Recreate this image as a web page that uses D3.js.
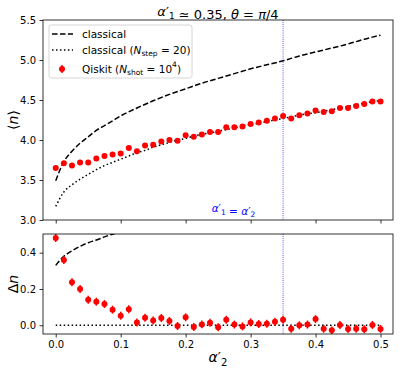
<!DOCTYPE html>
<html>
<head>
<meta charset="utf-8">
<script src="https://cdn.jsdelivr.net/npm/d3@7"></script>
<style>
body { margin: 0; background: #fff; }
text { font-family: "DejaVu Sans", sans-serif; }
</style>
</head>
<body>
<script>
// alpha'_2 grid of the Qiskit runs
var alpha = [0, 0.0125, 0.025, 0.0375, 0.05, 0.0625, 0.075, 0.0875, 0.1, 0.1125,
    0.125, 0.1375, 0.15, 0.1625, 0.175, 0.1875, 0.2, 0.2125, 0.225, 0.2375,
    0.25, 0.2625, 0.275, 0.2875, 0.3, 0.3125, 0.325, 0.3375, 0.35, 0.3625,
    0.375, 0.3875, 0.4, 0.4125, 0.425, 0.4375, 0.45, 0.4625, 0.475, 0.4875, 0.5];
var qiskitN = [3.65, 3.71, 3.68, 3.72, 3.72, 3.77, 3.80, 3.82, 3.83, 3.90,
    3.86, 3.93, 3.94, 3.98, 4.00, 3.99, 4.06, 4.04, 4.07, 4.10,
    4.10, 4.16, 4.16, 4.17, 4.20, 4.22, 4.24, 4.27, 4.30, 4.27,
    4.31, 4.33, 4.37, 4.35, 4.36, 4.40, 4.40, 4.425, 4.45, 4.48, 4.48];
var qiskitDn = [0.481, 0.36, 0.237, 0.20, 0.141, 0.130, 0.117, 0.086, 0.053, 0.088,
    0.016, 0.041, 0.027, 0.040, 0.024, -0.004, 0.044, -0.010, 0.005, 0.014,
    -0.011, 0.031, 0.004, -0.006, 0.016, 0.007, 0.009, 0.020, 0.031, -0.019,
    0.0, 0.004, 0.034, -0.019, -0.028, 0.002, -0.020, -0.019, -0.022, 0.002, -0.020];
var shotErr = 0.022;

// classical (N_step = 20), same grid
var stepN = [3.17, 3.35, 3.44, 3.51, 3.57, 3.63, 3.68, 3.72, 3.76, 3.80,
    3.84, 3.87, 3.91, 3.94, 3.97, 4.00, 4.02, 4.05, 4.07, 4.09,
    4.11, 4.13, 4.15, 4.18, 4.19, 4.21, 4.23, 4.25, 4.27, 4.29,
    4.31, 4.33, 4.34, 4.36, 4.38, 4.40, 4.42, 4.44, 4.46, 4.48, 4.49];

// classical (continuous)
var classAlpha = [0, 0.0125, 0.025, 0.0375, 0.05, 0.0625, 0.075, 0.0875, 0.1, 0.125,
    0.15, 0.175, 0.2, 0.225, 0.25, 0.275, 0.3, 0.325, 0.35, 0.375,
    0.4, 0.425, 0.45, 0.475, 0.5];
var classN = [3.49, 3.73, 3.86, 3.96, 4.04, 4.12, 4.18, 4.24, 4.30, 4.40,
    4.49, 4.57, 4.64, 4.71, 4.77, 4.83, 4.89, 4.94, 4.99, 5.05,
    5.10, 5.15, 5.20, 5.26, 5.31];

// classical minus N_step=20 curve shown in lower panel
var diffAlpha = [0, 0.0125, 0.025, 0.0375, 0.05, 0.0625, 0.075, 0.0875, 0.1, 0.125];
var diffDn = [0.33, 0.38, 0.41, 0.435, 0.455, 0.47, 0.487, 0.502, 0.515, 0.54];

var alphaEq = 0.35;
var xTicks = [0, 0.1, 0.2, 0.3, 0.4, 0.5];
var topTicks = [3.0, 3.5, 4.0, 4.5, 5.0, 5.5];
var botTicks = [0.0, 0.2, 0.4];

var width = 399, height = 373;
var svg = d3.select("body").append("svg")
        .attr("width", width)
        .attr("height", height);

var x = d3.scaleLinear().domain([-0.0196, 0.5192]).range([43, 393]);
var yTop = d3.scaleLinear().domain([3.0, 5.5]).range([220, 20]);
var yBot = d3.scaleLinear().domain([-0.048, 0.503]).range([334, 234]);

var defs = svg.append("defs");
function clip(id, y0, y1) {
    defs.append("clipPath").attr("id", id).append("rect")
            .attr("x", 43).attr("y", y0).attr("width", 350).attr("height", y1 - y0);
}
clip("clipTop", 20, 220);
clip("clipBot", 234, 334);

var dash = "5.55,2.4", dot = "1.5,2.475";

function drawAxes(yScale, ticks, showXLabels) {
    var g = svg.append("g");
    var xa = d3.axisBottom(x).tickValues(xTicks).tickSize(3.5).tickPadding(3.5)
            .tickFormat(showXLabels ? d3.format(".1f") : "");
    g.append("g").attr("transform", "translate(0," + yScale.range()[0] + ")").call(xa);
    var ya = d3.axisLeft(yScale).tickValues(ticks).tickSize(3.5).tickPadding(3.5)
            .tickFormat(d3.format(".1f"));
    g.append("g").attr("transform", "translate(43,0)").call(ya);
    g.selectAll(".domain").remove();
    g.selectAll(".tick line").attr("stroke", "#000").attr("stroke-width", 0.8);
    g.selectAll(".tick text").attr("font-size", 10).attr("fill", "#000")
            .attr("font-family", "DejaVu Sans, sans-serif");
    svg.append("rect")
            .attr("x", 43).attr("y", yScale.range()[1])
            .attr("width", 350).attr("height", yScale.range()[0] - yScale.range()[1])
            .attr("fill", "none").attr("stroke", "#000").attr("stroke-width", 0.8);
}

// prime + subscript helper for alpha'_k
function alphaPrime(t, k, sub) {
    t.append("tspan").attr("font-style", "italic").text("α");
    t.append("tspan").text("′");
    t.append("tspan").attr("font-size", sub).attr("dy", sub * 0.35).text(k);
    t.append("tspan").attr("dy", -sub * 0.35).text("");
}

// ---- top panel
var topG = svg.append("g").attr("clip-path", "url(#clipTop)");
topG.append("line")
        .attr("x1", x(alphaEq)).attr("x2", x(alphaEq))
        .attr("y1", 20).attr("y2", 220)
        .attr("stroke", "#0000ff").attr("stroke-width", 0.8).attr("stroke-dasharray", "0.8,1.3");

var lineTop = d3.line().x(function (d) { return x(d[0]); }).y(function (d) { return yTop(d[1]); })
        .curve(d3.curveMonotoneX);
topG.append("path")
        .attr("d", lineTop(d3.zip(classAlpha, classN)))
        .attr("fill", "none").attr("stroke", "#000").attr("stroke-width", 1.5)
        .attr("stroke-dasharray", dash);
topG.append("path")
        .attr("d", lineTop(d3.zip(alpha, stepN)))
        .attr("fill", "none").attr("stroke", "#000").attr("stroke-width", 1.5)
        .attr("stroke-dasharray", dot);

var ptsTop = topG.selectAll(".pt").data(d3.zip(alpha, qiskitN)).enter().append("g");
ptsTop.append("line")
        .attr("x1", function (d) { return x(d[0]); }).attr("x2", function (d) { return x(d[0]); })
        .attr("y1", function (d) { return yTop(d[1] - shotErr); })
        .attr("y2", function (d) { return yTop(d[1] + shotErr); })
        .attr("stroke", "red").attr("stroke-width", 1.5);
ptsTop.append("circle")
        .attr("cx", function (d) { return x(d[0]); })
        .attr("cy", function (d) { return yTop(d[1]); })
        .attr("r", 3).attr("fill", "red");

var eqText = svg.append("text")
        .attr("x", x(0.240)).attr("y", yTop(3.1))
        .attr("font-size", 10.5).attr("fill", "#0000ff");
alphaPrime(eqText, "1", 7.5);
eqText.append("tspan").text(" = ");
alphaPrime(eqText, "2", 7.5);

drawAxes(yTop, topTicks, false);

// ---- bottom panel
var botG = svg.append("g").attr("clip-path", "url(#clipBot)");
botG.append("line")
        .attr("x1", x(alphaEq)).attr("x2", x(alphaEq))
        .attr("y1", 234).attr("y2", 334)
        .attr("stroke", "#0000ff").attr("stroke-width", 0.8).attr("stroke-dasharray", "0.8,1.3");

var lineBot = d3.line().x(function (d) { return x(d[0]); }).y(function (d) { return yBot(d[1]); })
        .curve(d3.curveMonotoneX);
botG.append("path")
        .attr("d", lineBot([[alpha[0], 0], [alpha[alpha.length - 1], 0]]))
        .attr("fill", "none").attr("stroke", "#000").attr("stroke-width", 1.5)
        .attr("stroke-dasharray", dot);
botG.append("path")
        .attr("d", lineBot(d3.zip(diffAlpha, diffDn)))
        .attr("fill", "none").attr("stroke", "#000").attr("stroke-width", 1.5)
        .attr("stroke-dasharray", dash);

var ptsBot = botG.selectAll(".pt").data(d3.zip(alpha, qiskitDn)).enter().append("g");
ptsBot.append("line")
        .attr("x1", function (d) { return x(d[0]); }).attr("x2", function (d) { return x(d[0]); })
        .attr("y1", function (d) { return yBot(d[1] - shotErr); })
        .attr("y2", function (d) { return yBot(d[1] + shotErr); })
        .attr("stroke", "red").attr("stroke-width", 1.5);
ptsBot.append("circle")
        .attr("cx", function (d) { return x(d[0]); })
        .attr("cy", function (d) { return yBot(d[1]); })
        .attr("r", 3).attr("fill", "red");

drawAxes(yBot, botTicks, true);

// ---- labels
var title = svg.append("text").attr("x", 218).attr("y", 16)
        .attr("text-anchor", "middle").attr("font-size", 13);
alphaPrime(title, "1", 9);
title.append("tspan").text(" ≃ 0.35, ");
title.append("tspan").attr("font-style", "italic").text("θ");
title.append("tspan").text(" = ");
title.append("tspan").attr("font-style", "italic").text("π");
title.append("tspan").text("/4");

svg.append("text")
        .attr("transform", "translate(18,120) rotate(-90)")
        .attr("text-anchor", "middle").attr("font-size", 14)
        .html('⟨<tspan font-style="italic">n</tspan>⟩');

svg.append("text")
        .attr("transform", "translate(18,284) rotate(-90)")
        .attr("text-anchor", "middle").attr("font-size", 14)
        .html('Δ<tspan font-style="italic">n</tspan>');

var xl = svg.append("text").attr("x", 218).attr("y", 362)
        .attr("text-anchor", "middle").attr("font-size", 14);
alphaPrime(xl, "2", 10);

// ---- legend
var leg = svg.append("g");
leg.append("rect")
        .attr("x", 49).attr("y", 25).attr("width", 143).attr("height", 53).attr("rx", 2.5)
        .attr("fill", "#fff").attr("fill-opacity", 0.8)
        .attr("stroke", "#ccc").attr("stroke-width", 0.8);
leg.append("line").attr("x1", 52).attr("x2", 73).attr("y1", 34).attr("y2", 34)
        .attr("stroke", "#000").attr("stroke-width", 1.5).attr("stroke-dasharray", dash);
leg.append("line").attr("x1", 52).attr("x2", 73).attr("y1", 50).attr("y2", 50)
        .attr("stroke", "#000").attr("stroke-width", 1.5).attr("stroke-dasharray", dot);
leg.append("line").attr("x1", 62).attr("x2", 62).attr("y1", 65).attr("y2", 73)
        .attr("stroke", "red").attr("stroke-width", 1.5);
leg.append("circle").attr("cx", 62).attr("cy", 69).attr("r", 3).attr("fill", "red");

leg.append("text").attr("x", 82).attr("y", 37.5).attr("font-size", 10.5).text("classical");
var l2 = leg.append("text").attr("x", 82).attr("y", 53.5).attr("font-size", 10.5);
l2.append("tspan").text("classical (");
l2.append("tspan").attr("font-style", "italic").text("N");
l2.append("tspan").attr("font-size", 7.5).attr("dy", 2).text("step");
l2.append("tspan").attr("dy", -2).text(" = 20)");
var l3 = leg.append("text").attr("x", 82).attr("y", 72.5).attr("font-size", 10.5);
l3.append("tspan").text("Qiskit (");
l3.append("tspan").attr("font-style", "italic").text("N");
l3.append("tspan").attr("font-size", 7.5).attr("dy", 2).text("shot");
l3.append("tspan").attr("dy", -2).text(" = 10");
l3.append("tspan").attr("font-size", 7.5).attr("dy", -6).text("4");
l3.append("tspan").attr("dy", 6).text(")");
</script>
</body>
</html>
